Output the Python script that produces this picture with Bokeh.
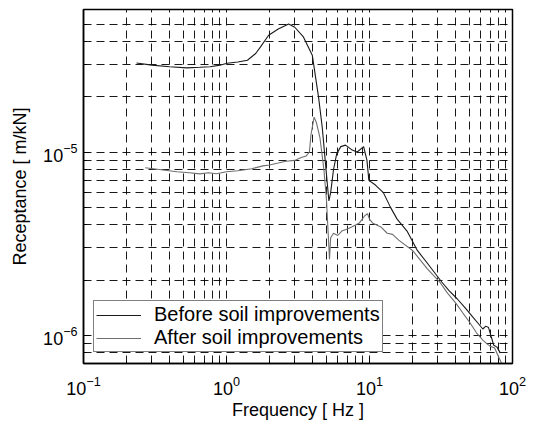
from bokeh.plotting import figure
from bokeh.models import Range1d, Legend, LegendItem, FixedTicker
from bokeh.embed import file_html
from bokeh.resources import INLINE

# Receptance before soil improvements (Hz, m/kN)
before_f = [0.235, 0.3, 0.4, 0.53, 0.65, 0.77, 0.9, 1.01, 1.2, 1.4, 1.6, 1.73, 1.97,
            2.3, 2.72, 3.0, 3.45, 3.98, 4.4, 4.67, 4.9, 5.2, 5.35, 5.6, 5.9, 6.3,
            6.8, 7.5, 8.2, 9.1, 9.6, 9.9, 11.0, 12.5, 14.0, 15.6, 18.3, 21.6, 25.4,
            32.0, 36.0, 41.0, 47.0, 53.0, 58.0, 62.0, 65.0, 68.0, 71.0, 74.0, 78.0, 82.0]
before_r = [3.06e-5, 2.98e-5, 2.92e-5, 2.88e-5, 2.9e-5, 2.92e-5, 2.98e-5, 3.05e-5, 3.1e-5,
            3.17e-5, 3.45e-5, 3.75e-5, 4.34e-5, 4.7e-5, 5.0e-5, 4.8e-5, 4.25e-5, 3.38e-5,
            2.0e-5, 1.37e-5, 9.0e-6, 5.4e-6, 6.0e-6, 8.0e-6, 9.8e-6, 1.07e-5, 1.09e-5,
            1.03e-5, 1.0e-5, 1.07e-5, 9.0e-6, 7.0e-6, 6.6e-6, 6.0e-6, 5.0e-6, 4.3e-6,
            3.7e-6, 2.9e-6, 2.47e-6, 1.95e-6, 1.75e-6, 1.58e-6, 1.4e-6, 1.25e-6, 1.15e-6,
            1.08e-6, 1.12e-6, 1.1e-6, 9.8e-7, 8.8e-7, 8.6e-7, 8.0e-7]

# Receptance after soil improvements (Hz, m/kN)
after_f = [0.27, 0.35, 0.45, 0.55, 0.65, 0.75, 0.85, 1.0, 1.2, 1.5, 1.8, 2.0, 2.3, 2.6,
           3.0, 3.3, 3.6, 3.8, 3.9, 4.1, 4.25, 4.5, 4.8, 5.0, 5.15, 5.25, 5.35, 5.6,
           6.0, 6.4, 7.0, 7.5, 8.5, 9.3, 9.7, 10.0, 10.5, 12.0, 13.3, 14.5, 16.0, 20.0,
           25.4, 31.0, 35.0, 40.0, 45.0, 50.0, 56.0, 62.0, 67.0, 70.0, 75.0, 80.0, 84.0]
after_r = [8.2e-6, 8.0e-6, 7.8e-6, 7.7e-6, 7.6e-6, 7.7e-6, 7.6e-6, 7.8e-6, 7.9e-6, 8.1e-6,
           8.4e-6, 8.5e-6, 8.7e-6, 8.9e-6, 9.0e-6, 9.3e-6, 9.5e-6, 1.0e-5, 1.25e-5, 1.55e-5,
           1.45e-5, 1.2e-5, 8.0e-6, 5.5e-6, 3.5e-6, 2.6e-6, 3.4e-6, 3.6e-6, 3.5e-6, 3.7e-6,
           3.8e-6, 3.9e-6, 4.1e-6, 4.5e-6, 4.6e-6, 4.3e-6, 4.1e-6, 3.9e-6, 3.6e-6, 3.55e-6,
           3.3e-6, 2.9e-6, 2.3e-6, 1.95e-6, 1.7e-6, 1.5e-6, 1.32e-6, 1.18e-6, 1.03e-6,
           9.4e-7, 8.9e-7, 8.7e-7, 8.5e-7, 7.6e-7, 7.0e-7]

x_lim = (0.1, 100)
y_lim = (7e-7, 6e-5)

# tick values
x_major = [0.1, 1, 10, 100]
x_minor = [0.2, 0.3, 0.4, 0.5, 0.6, 0.7, 0.8, 0.9,
           2, 3, 4, 5, 6, 7, 8, 9,
           20, 30, 40, 50, 60, 70, 80, 90]
y_major = [1e-6, 1e-5]
y_minor = [8e-7, 9e-7,
           2e-6, 3e-6, 4e-6, 5e-6, 6e-6, 7e-6, 8e-6, 9e-6,
           2e-5, 3e-5, 4e-5, 5e-5, 6e-5]

FONT = "Liberation Sans"

p = figure(frame_width=429, frame_height=354,
           x_axis_type="log", y_axis_type="log",
           x_range=Range1d(*x_lim), y_range=Range1d(*y_lim),
           output_backend="svg", toolbar_location=None,
           min_border_left=83, min_border_right=21,
           min_border_top=9, min_border_bottom=62,
           background_fill_color="white", border_fill_color="white")

p.outline_line_color = "black"
p.outline_line_width = 1.5

x_ticker = FixedTicker(ticks=x_major, minor_ticks=x_minor)
y_ticker = FixedTicker(ticks=y_major, minor_ticks=y_minor)
p.xaxis.ticker = x_ticker
p.yaxis.ticker = y_ticker
p.xgrid.ticker = x_ticker
p.ygrid.ticker = y_ticker

for g in (p.xgrid, p.ygrid):
    g.grid_line_color = "black"
    g.grid_line_dash = "8 5"
    g.grid_line_width = 1
    g.grid_line_alpha = 0.9
    g.minor_grid_line_color = "black"
    g.minor_grid_line_dash = "8 5"
    g.minor_grid_line_width = 1
    g.minor_grid_line_alpha = 0.9

p.xaxis.axis_label = "Frequency [ Hz ]"
p.yaxis.axis_label = "Receptance [ m/kN]"

for ax in (p.xaxis, p.yaxis):
    ax.axis_label_text_font = FONT
    ax.axis_label_text_font_size = "18px"
    ax.axis_label_text_font_style = "normal"
    ax.axis_label_text_color = "black"
    ax.major_label_text_font = FONT
    ax.major_label_text_font_size = "18px"
    ax.major_label_text_color = "black"
    ax.axis_line_color = "black"
    ax.axis_line_width = 1.5
    ax.major_tick_in = 6
    ax.major_tick_out = 0
    ax.minor_tick_in = 3
    ax.minor_tick_out = 0
    ax.major_tick_line_color = "black"
    ax.minor_tick_line_color = "black"

p.xaxis.major_label_standoff = 12
p.xaxis.axis_label_standoff = 2
p.yaxis.major_label_standoff = 6
p.yaxis.axis_label_standoff = 10

r_before = p.line(before_f, before_r, line_color="#1a1a1a", line_width=1.1)
r_after = p.line(after_f, after_r, line_color="#6e6e6e", line_width=1.1)

legend = Legend(items=[LegendItem(label="Before soil improvements", renderers=[r_before]),
                       LegendItem(label="After soil improvements", renderers=[r_after])],
                location=(10, 11), orientation="vertical",
                label_text_font=FONT, label_text_font_size="20px",
                label_text_color="black",
                glyph_width=45, glyph_height=18, label_height=18,
                label_standoff=13, padding=2, spacing=-2, margin=0,
                border_line_color="black", border_line_width=1.2,
                background_fill_color="white", background_fill_alpha=1)
p.add_layout(legend, "center")

open("out.html", "w").write(file_html(p, INLINE))
